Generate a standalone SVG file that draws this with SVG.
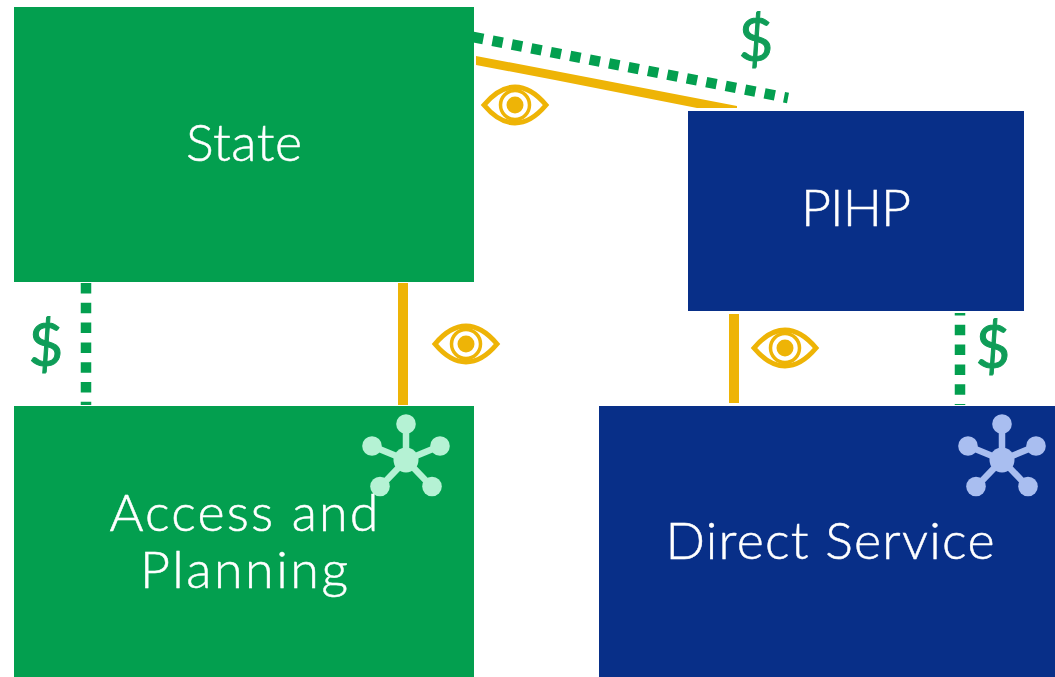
<svg xmlns="http://www.w3.org/2000/svg" width="1055" height="677" viewBox="0 0 1055 677">
<style>
.g{fill:#039F4F}.b{fill:#082F88}
.t{font-family:"Lato","Noto Sans",sans-serif;font-weight:300;font-size:52px;fill:#fff;stroke:#fff;stroke-width:.5;text-anchor:middle}
.d{font-family:"Lato","Noto Sans",sans-serif;font-weight:400;font-size:60px;fill:#0F9D58;stroke:#0F9D58;stroke-width:1;text-anchor:middle}
.dot{fill:none;stroke:#039F4F;stroke-width:10.5;stroke-dasharray:10.5 9.3}
.gold{fill:#EEB406}
.eye-o{fill:none;stroke:#EEB406;stroke-width:5}
</style>
<defs>
<g id="eye">
<path class="eye-o" d="M-31 0C-21-12-11-18 0-18S21-12 31 0C21 12 11 18 0 18S-21 12-31 0Z"/>
<circle class="eye-o" r="14.5" style="stroke-width:3.5"/>
<circle class="gold" r="8.5"/>
</g>
<g id="hub">
<path fill="none" stroke="currentColor" stroke-width="6.5" d="M0 -36V0M-34 -14L0 0L34 -14M-26 27L0 0L26 27"/>
<circle fill="currentColor" r="12.5"/>
<circle fill="currentColor" cx="0" cy="-36" r="9.8"/>
<circle fill="currentColor" cx="-34" cy="-14" r="9.8"/>
<circle fill="currentColor" cx="34" cy="-14" r="9.8"/>
<circle fill="currentColor" cx="-26" cy="26.5" r="9.8"/>
<circle fill="currentColor" cx="26" cy="26.5" r="9.8"/>
</g>
</defs>
<g id="connectors">
<line class="dot" x1="473" y1="37" x2="788" y2="98"/>
<polygon class="gold" points="476,56 555,71 737,106 737,108 697,108 555,80 476,65"/>
<line class="dot" x1="86" y1="283" x2="86" y2="405"/>
<rect class="gold" x="398" y="283" width="10" height="122"/>
<rect class="gold" x="729" y="314" width="10" height="89"/>
<line class="dot" x1="960" y1="313" x2="960" y2="405" stroke-dashoffset="8"/>
</g>
<g id="state"><rect class="g" x="14" y="7" width="460" height="275"/><text class="t" x="244" y="161" textLength="116">State</text></g>
<g id="pihp"><rect class="b" x="688" y="111" width="336" height="200"/><text class="t" x="856" y="226" textLength="110">PIHP</text></g>
<g id="access"><rect class="g" x="14" y="406" width="460" height="271"/>
<use href="#hub" x="406" y="460" color="#B5F2D4"/>
<text class="t" x="244" y="531" textLength="269">Access and</text><text class="t" x="244" y="588" textLength="208">Planning</text></g>
<g id="direct"><rect class="b" x="599" y="406" width="456" height="271"/>
<use href="#hub" x="1002" y="460" color="#A9BEF0"/>
<text class="t" x="830" y="559" textLength="329">Direct Service</text></g>
<g id="icons">
<use href="#eye" x="515" y="105"/><use href="#eye" x="466" y="344"/><use href="#eye" x="785" y="348"/>
<text class="d" x="756" y="61">$</text><text class="d" x="46" y="366">$</text><text class="d" x="993" y="368">$</text>
</g>
</svg>
